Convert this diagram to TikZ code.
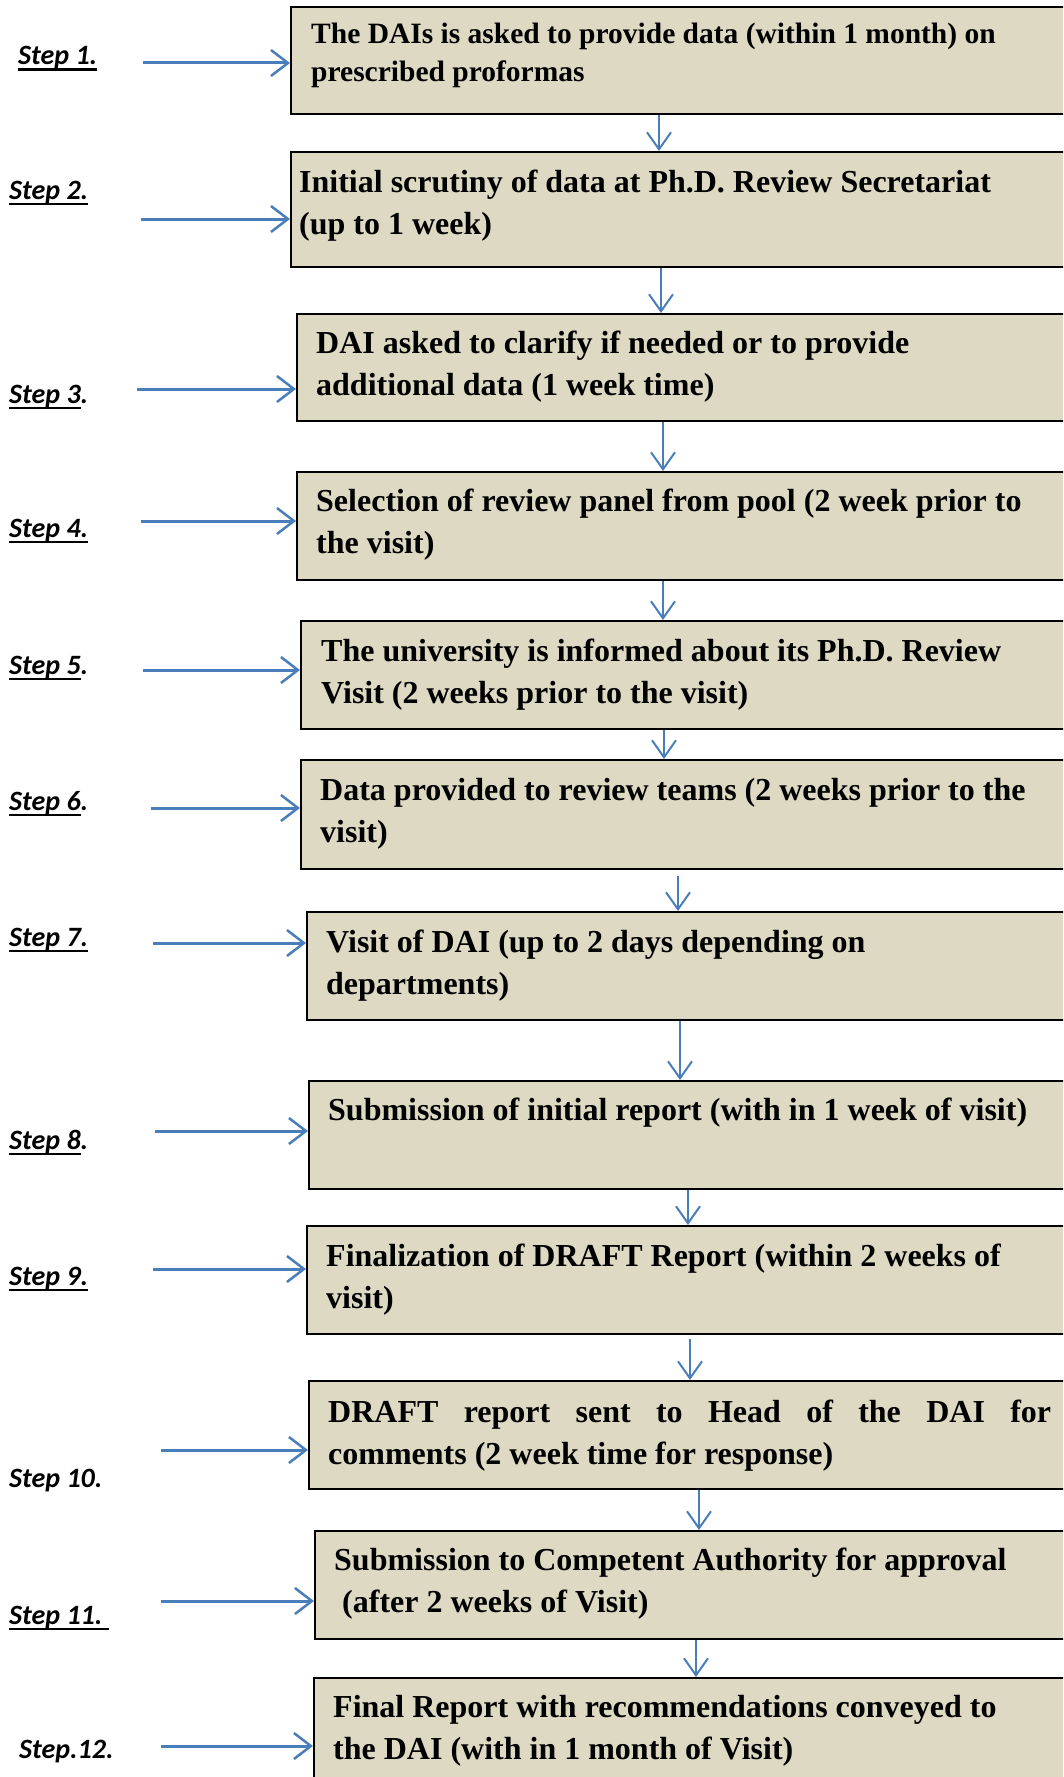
\documentclass[tikz,border=0pt]{standalone}
\usepackage{fontspec}
\newfontfamily\boxfont{Liberation Serif}
\newfontfamily\stepfont{Carlito}
\usetikzlibrary{arrows.meta,calc}
\definecolor{boxfill}{RGB}{221,217,195}
\definecolor{arrowblue}{RGB}{74,126,187}
\newsavebox\ulbox
\newcommand\stepul[1]{\sbox\ulbox{#1}\rlap{\rule[-6pt]{\wd\ulbox}{2.5pt}}\usebox\ulbox}
\begin{document}
\begin{tikzpicture}[x=1pt,y=-1pt,
  box/.style={draw=black, line width=2pt, fill=boxfill, rectangle, anchor=north west, minimum width=900pt, inner sep=0pt},
  txt/.style={anchor=north west, inner sep=0pt, align=left, font=\boxfont\bfseries\fontsize{32}{42}\selectfont},
  steplbl/.style={anchor=base west, inner sep=0pt, font=\stepfont\bfseries\itshape\fontsize{28}{30}\selectfont},
  harrow/.style={draw=arrowblue, line width=3pt, -{Straight Barb[length=17pt,width=26pt,line width=2.5pt]}},
  varrow/.style={draw=arrowblue, line width=2pt, -{Straight Barb[length=17pt,width=24pt,line width=2pt]}}
]
\useasboundingbox (0,0) rectangle (1063,1777);
\fill[white] (0,0) rectangle (1063,1777);
\clip (0,0) rectangle (1063,1777);

% boxes
\node[box, minimum height=107pt] (b1) at (290,6) {};
\node[box, minimum height=115pt] (b2) at (290,151) {};
\node[box, minimum height=107pt] (b3) at (296,313) {};
\node[box, minimum height=108pt] (b4) at (296,471) {};
\node[box, minimum height=108pt] (b5) at (300,620) {};
\node[box, minimum height=109pt] (b6) at (300,759) {};
\node[box, minimum height=108pt] (b7) at (306,911) {};
\node[box, minimum height=108pt] (b8) at (308,1080) {};
\node[box, minimum height=108pt] (b9) at (306,1225) {};
\node[box, minimum height=108pt] (b10) at (308,1380) {};
\node[box, minimum height=108pt] (b11) at (314,1530) {};
\node[box, minimum height=140pt] (b12) at (313,1677) {};

% box texts
\def\st{\rule{0pt}{24pt}}
\node[txt, font=\boxfont\bfseries\fontsize{29.5}{38.5}\selectfont] (t1) at ($(b1.north west)+(21,13)$) {\st The DAIs is asked to provide data (within 1 month) on\\prescribed proformas};
\node[txt] (t2) at ($(b2.north west)+(9,17)$) {\st Initial scrutiny of data at Ph.D. Review Secretariat\\(up to 1 week)};
\node[txt] (t3) at ($(b3.north west)+(20,16)$) {\st DAI asked to clarify if needed or to provide\\additional data (1 week time)};
\node[txt] (t4) at ($(b4.north west)+(20,16)$) {\st Selection of review panel from pool (2 week prior to\\the visit)};
\node[txt] (t5) at ($(b5.north west)+(21,17)$) {\st The university is informed about its Ph.D. Review\\Visit (2 weeks prior to the visit)};
\node[txt] (t6) at ($(b6.north west)+(20,17)$) {\st Data provided to review teams (2 weeks prior to the\\visit)};
\node[txt] (t7) at ($(b7.north west)+(20,17)$) {\st Visit of DAI (up to 2 days depending on\\departments)};
\node[txt] (t8) at ($(b8.north west)+(20,16)$) {\st Submission of initial report (with in 1 week of visit)};
\node[txt] (t9) at ($(b9.north west)+(20,17)$) {\st Finalization of DRAFT Report (within 2 weeks of\\visit)};
\node[txt] (t10) at ($(b10.north west)+(20,18)$) {\st\hbox to 723pt{DRAFT\hfill report\hfill sent\hfill to\hfill Head\hfill of\hfill the\hfill DAI\hfill for}\\comments (2 week time for response)};
\node[txt] (t11) at ($(b11.north west)+(20,16)$) {\st Submission to Competent Authority for approval\\\ (after 2 weeks of Visit)};
\node[txt] (t12) at ($(b12.north west)+(20,16)$) {\st Final Report with recommendations conveyed to\\the DAI (with in 1 month of Visit)};

% step labels
\node[steplbl] (s1) at (18,65) {\stepul{Step 1.}};
\node[steplbl] (s2) at (9,199) {\stepul{Step 2.}};
\node[steplbl] (s3) at (9,403) {\stepul{Step 3}.};
\node[steplbl] (s4) at (9,537) {\stepul{Step 4.}};
\node[steplbl] (s5) at (9,674) {\stepul{Step 5}.};
\node[steplbl] (s6) at (9,810) {\stepul{Step 6}.};
\node[steplbl] (s7) at (9,946) {\stepul{Step 7.}};
\node[steplbl] (s8) at (9,1149) {\stepul{Step 8}.};
\node[steplbl] (s9) at (9,1285) {\stepul{Step 9.}};
\node[steplbl] (s10) at (9,1487) {Step 10.};
\node[steplbl] (s11) at (9,1624) {\stepul{Step 11.\ }};
\node[steplbl] (s12) at (19,1758) {Step.12.};

% horizontal arrows
\coordinate (h1) at (143,63);
\coordinate (h2) at (141,219);
\coordinate (h3) at (137,389);
\coordinate (h4) at (141,521);
\coordinate (h5) at (143,670);
\coordinate (h6) at (151,808);
\coordinate (h7) at (153,943);
\coordinate (h8) at (155,1131);
\coordinate (h9) at (153,1269);
\coordinate (h10) at (161,1450);
\coordinate (h11) at (161,1601);
\coordinate (h12) at (161,1746);
\foreach \i in {1,...,12}{
  \draw[harrow] (h\i) -- (b\i.west |- h\i);
}

% vertical arrows
\coordinate (v1) at (659,0);
\coordinate (v2) at (661,0);
\coordinate (v3) at (663,0);
\coordinate (v4) at (663,0);
\coordinate (v5) at (664,0);
\coordinate (v6) at (678,0);
\coordinate (v7) at (680,0);
\coordinate (v8) at (688,0);
\coordinate (v9) at (690,0);
\coordinate (v10) at (699,0);
\coordinate (v11) at (696,0);
\draw[varrow] (b1.south -| v1) -- (b2.north -| v1);
\draw[varrow] (b2.south -| v2) -- (b3.north -| v2);
\draw[varrow] (b3.south -| v3) -- (b4.north -| v3);
\draw[varrow] (b4.south -| v4) -- (b5.north -| v4);
\draw[varrow] (b5.south -| v5) -- (b6.north -| v5);
\draw[varrow] ($(b6.south -| v6)+(0,6)$) -- (b7.north -| v6);
\draw[varrow] (b7.south -| v7) -- (b8.north -| v7);
\draw[varrow] (b8.south -| v8) -- (b9.north -| v8);
\draw[varrow] ($(b9.south -| v9)+(0,4)$) -- (b10.north -| v9);
\draw[varrow] (b10.south -| v10) -- (b11.north -| v10);
\draw[varrow] (b11.south -| v11) -- (b12.north -| v11);
\end{tikzpicture}
\end{document}
